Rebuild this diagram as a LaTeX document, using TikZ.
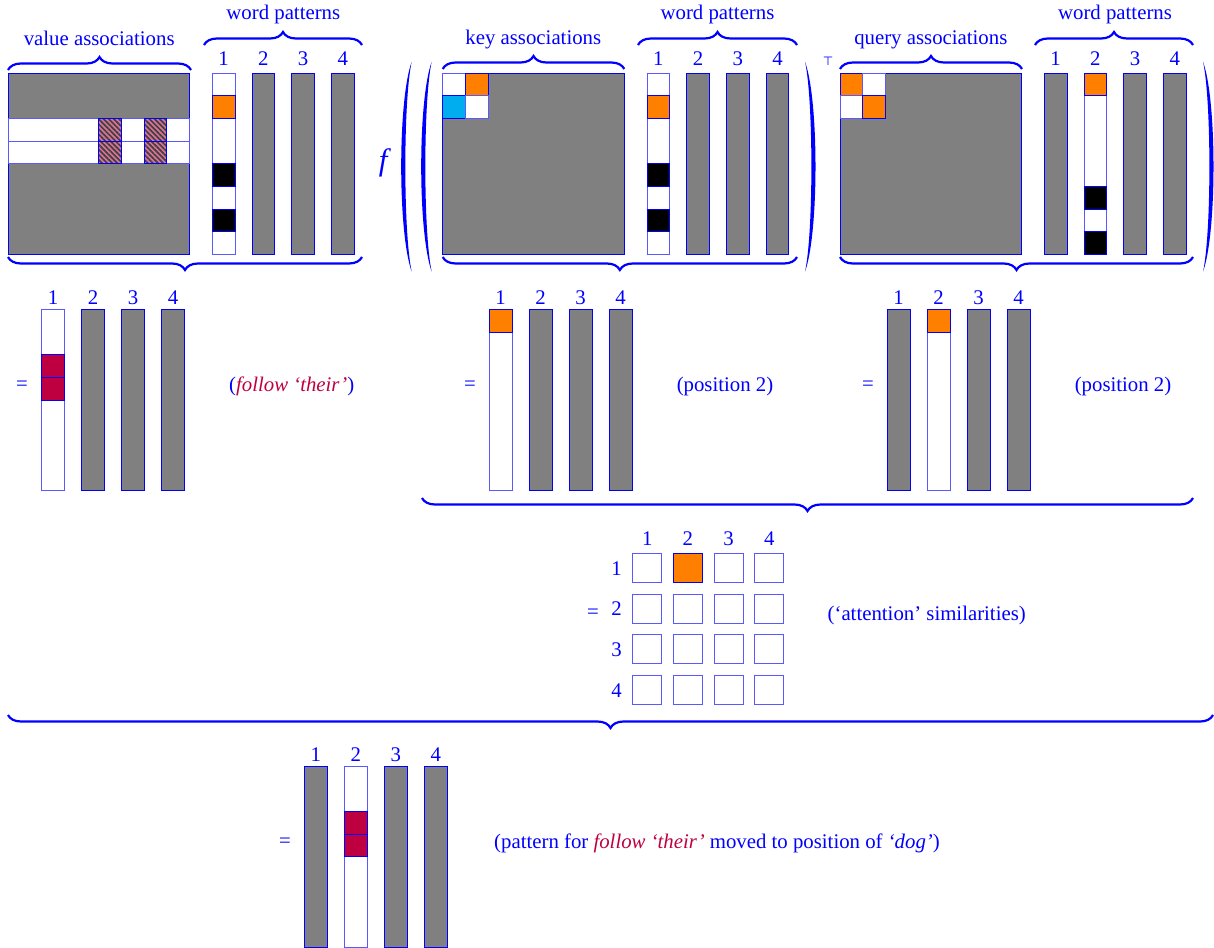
\documentclass[tikz,border=0pt]{standalone}
\usepackage{fontspec}
\setmainfont{Liberation Serif}
\newfontfamily\symfont{DejaVu Sans}
\usetikzlibrary{decorations.pathreplacing,patterns.meta}
\definecolor{keycyan}{HTML}{00AEEF}

\begin{document}
\begin{tikzpicture}[x=1pt, y=-1pt,
  every node/.style={text=blue, inner sep=0pt, font=\fontsize{20.8}{25}\selectfont},
  cell/.style={draw=blue, line width=0.9pt},
  blank/.style={draw=blue!65, line width=0.9pt, fill=white},
  grey/.style={cell, fill=gray},
  hot/.style={cell, fill=orange},
  dark/.style={cell, fill=black},
  wine/.style={cell, fill=purple},
  hatch/.style={cell, preaction={fill=purple!55}, pattern={Lines[angle=-45,distance=3.6pt,line width=1.7pt]}, pattern color=black!75},
  brc/.style={draw=blue, line width=2.2pt, decorate, decoration={brace, amplitude=13pt}},
  brcd/.style={draw=blue, line width=2.2pt, decorate, decoration={brace, mirror, amplitude=13pt}},
  lbl/.style={anchor=base}
]
\useasboundingbox (0,0) rectangle (1214,947);

% ---- top row: value block
\begin{scope}[shift={(8,73)}, x=22.7pt, y=-22.7pt]
  \draw[grey] (0,0) rectangle (8,8);
  \foreach \r in {2,3} \draw[blank] (0,\r) rectangle (8,\r+1);
  \foreach \r in {2,3} \foreach \c in {4,6} \draw[hatch] (\c,\r) rectangle ++(1,1);
  \draw[blank] (9,0) rectangle (10,8);
  \draw[hot] (9,1) rectangle (10,2);
  \foreach \r in {4,6} \draw[dark] (9,\r) rectangle (10,\r+1);
  \foreach \c in {10.75,12.5,14.25} \draw[grey] (\c,0) rectangle ++(1,8);
  \foreach \n/\c in {1/9,2/10.75,3/12.5,4/14.25} \node[lbl] (v\n) at (\c+0.5,-0.35) {\n};
\end{scope}

% ---- top row: key block
\begin{scope}[shift={(442.7,73)}, x=22.7pt, y=-22.7pt]
  \draw[grey] (0,0) rectangle (8,8);
  \draw[blank] (0,0) rectangle (1,1);
  \draw[hot] (1,0) rectangle (2,1);
  \draw[cell, fill=keycyan] (0,1) rectangle (1,2);
  \draw[blank] (1,1) rectangle (2,2);
  \draw[blank] (9,0) rectangle (10,8);
  \draw[hot] (9,1) rectangle (10,2);
  \foreach \r in {4,6} \draw[dark] (9,\r) rectangle (10,\r+1);
  \foreach \c in {10.75,12.5,14.25} \draw[grey] (\c,0) rectangle ++(1,8);
  \foreach \n/\c in {1/9,2/10.75,3/12.5,4/14.25} \node[lbl] (k\n) at (\c+0.5,-0.35) {\n};
\end{scope}

% ---- top row: query block
\begin{scope}[shift={(840,73)}, x=22.7pt, y=-22.7pt]
  \draw[grey] (0,0) rectangle (8,8);
  \draw[hot] (0,0) rectangle (1,1);
  \draw[blank] (1,0) rectangle (2,1);
  \draw[blank] (0,1) rectangle (1,2);
  \draw[hot] (1,1) rectangle (2,2);
  \foreach \c in {9,12.5,14.25} \draw[grey] (\c,0) rectangle ++(1,8);
  \draw[blank] (10.75,0) rectangle (11.75,8);
  \draw[hot] (10.75,0) rectangle (11.75,1);
  \foreach \r in {5,7} \draw[dark] (10.75,\r) rectangle (11.75,\r+1);
  \foreach \n/\c in {1/9,2/10.75,3/12.5,4/14.25} \node[lbl] (q\n) at (\c+0.5,-0.35) {\n};
\end{scope}

\node[lbl] (vassoc) at (99.2,46) {value associations};
\node[lbl] (kassoc) at (533.3,45) {key associations};
\node[lbl] (qassoc) at (930.8,45) {query associations};
\node[lbl] (vwords) at (283.3,20) {word patterns};
\node[lbl] (kwords) at (717.5,20) {word patterns};
\node[lbl] (qwords) at (1115,20) {word patterns};
\node (fsym) at (385,163) {\fontsize{31}{36}\selectfont\textit{f}};
\node (tsym) at (828,61) {\symfont\fontsize{12}{14}\selectfont ⊤};

% parentheses
\foreach \px/\d in {411.7/-1,431.7/-1,805/1,1203/1}
  \fill[blue] (\px,61.7) .. controls ({\px+14*\d},100) and ({\px+14*\d},233) .. (\px,271.7)
    .. controls ({\px+8.5*\d},233) and ({\px+8.5*\d},100) .. (\px,61.7);

% braces
\draw[brc] (8,70) -- (191,70);
\draw[brc] (204,45) -- (362,45);
\draw[brcd] (8,257) -- (362,257);
\draw[brc] (442.7,69) -- (624.3,69);
\draw[brc] (638,45) -- (797,45);
\draw[brcd] (442.7,257) -- (797,257);
\draw[brc] (840,69) -- (1022,69);
\draw[brc] (1035,45) -- (1193,45);
\draw[brcd] (840,257) -- (1193,257);
\draw[brcd] (422,498) -- (1193,498);
\draw[brcd] (8,715) -- (1213,715);

% ---- middle row
\begin{scope}[shift={(41.7,309.3)}, x=22.7pt, y=-22.7pt]
  \draw[blank] (0,0) rectangle (1,8);
  \foreach \r in {2,3} \draw[wine] (0,\r) rectangle (1,\r+1);
  \foreach \c in {1.762,3.524,5.286} \draw[grey] (\c,0) rectangle ++(1,8);
  \foreach \n/\c in {1/0,2/1.762,3/3.524,4/5.286} \node[lbl] (vr\n) at (\c+0.5,-0.19) {\n};
\end{scope}
\begin{scope}[shift={(489.3,309.3)}, x=22.7pt, y=-22.7pt]
  \draw[blank] (0,0) rectangle (1,8);
  \draw[hot] (0,0) rectangle (1,1);
  \foreach \c in {1.762,3.524,5.286} \draw[grey] (\c,0) rectangle ++(1,8);
  \foreach \n/\c in {1/0,2/1.762,3/3.524,4/5.286} \node[lbl] (kr\n) at (\c+0.5,-0.19) {\n};
\end{scope}
\begin{scope}[shift={(887.3,309.3)}, x=22.7pt, y=-22.7pt]
  \draw[blank] (1.762,0) rectangle ++(1,8);
  \draw[hot] (1.762,0) rectangle ++(1,1);
  \foreach \c in {0,3.524,5.286} \draw[grey] (\c,0) rectangle ++(1,8);
  \foreach \n/\c in {1/0,2/1.762,3/3.524,4/5.286} \node[lbl] (qr\n) at (\c+0.5,-0.19) {\n};
\end{scope}
\node (eqv) at (22,386) {=};
\node (eqk) at (470,386) {=};
\node (eqq) at (868,386) {=};
\node[lbl] (follow) at (291.7,391) {(\textcolor{purple}{\textit{follow `their'}})};
\node[lbl] (kpos) at (725,391) {(position 2)};
\node[lbl] (qpos) at (1123,391) {(position 2)};

% ---- attention similarities
\foreach \r in {0,...,3} \foreach \c in {0,...,3}
  \draw[blank] ({632.7+40.7*\c},{553.3+40.7*\r}) rectangle ++(29,29);
\draw[hot] (673.4,553.3) rectangle ++(29,29);
\foreach \n in {1,...,4} {
  \node[lbl] (ac\n) at ({647.2+40.7*(\n-1)},545) {\n};
  \node[lbl] (ar\n) at (616.5,{575+40.7*(\n-1)}) {\n};
}
\node (eqa) at (593,614) {=};
\node[lbl] (attn) at (926.7,620) {(`attention' similarities)};

% ---- result
\begin{scope}[shift={(304.5,766)}, x=22.7pt, y=-22.7pt]
  \draw[blank] (1.762,0) rectangle ++(1,8);
  \foreach \r in {2,3} \draw[wine] (1.762,\r) rectangle ++(1,1);
  \foreach \c in {0,3.524,5.286} \draw[grey] (\c,0) rectangle ++(1,8);
  \foreach \n/\c in {1/0,2/1.762,3/3.524,4/5.286} \node[lbl] (or\n) at (\c+0.5,-0.19) {\n};
\end{scope}
\node (eqo) at (285,843) {=};
\node[lbl] (moved) at (717,848) {(pattern for \textcolor{purple}{\textit{follow `their'}} moved to position of \textit{`dog'})};
\end{tikzpicture}
\end{document}
